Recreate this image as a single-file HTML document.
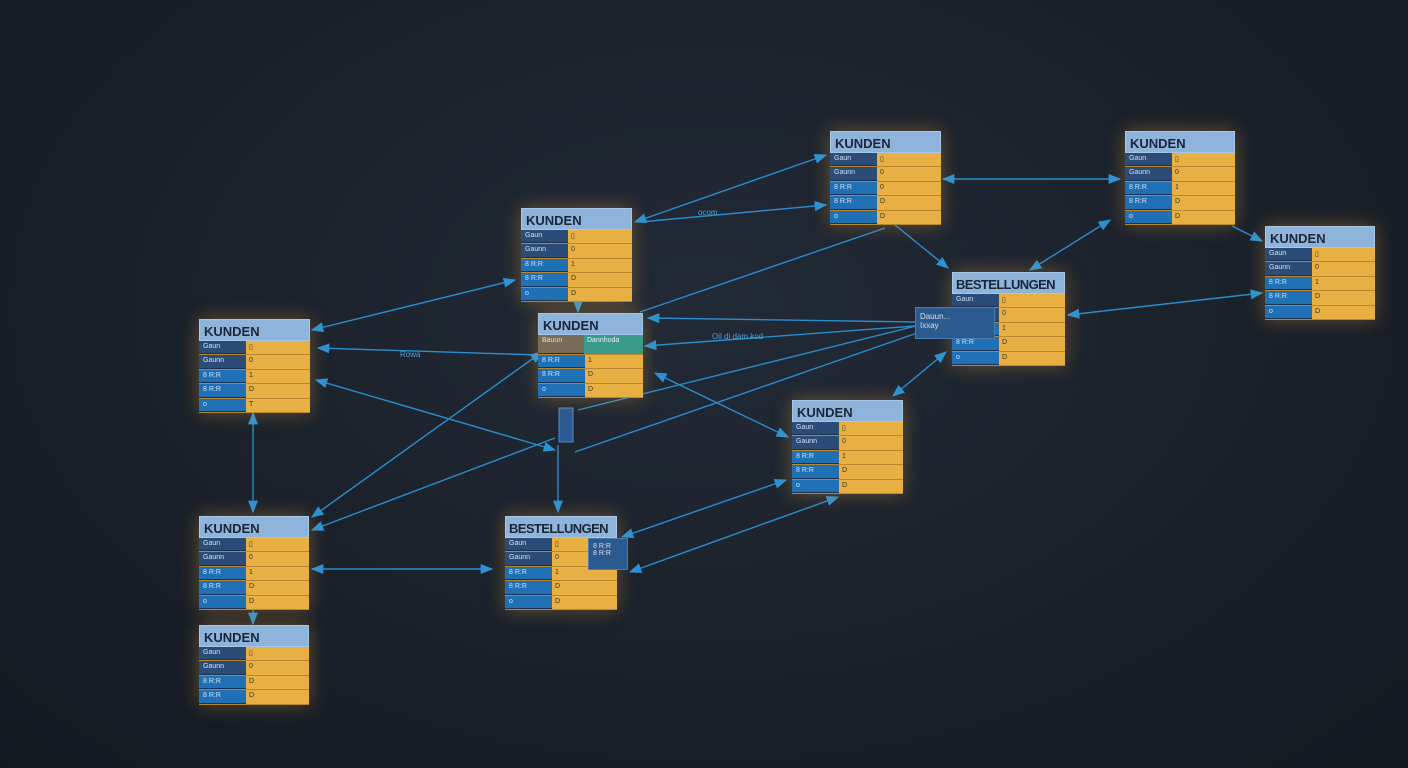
<!DOCTYPE html>
<html><head><meta charset="utf-8"><style>
*{margin:0;padding:0;box-sizing:border-box}
body{width:1408px;height:768px;overflow:hidden;background:radial-gradient(ellipse at 50% 40%,#222a36 0%,#1a2029 60%,#141920 100%);font-family:"Liberation Sans",sans-serif;position:relative}
.t{position:absolute;width:111px;box-shadow:0 0 18px rgba(240,170,60,.35)}
.h{height:22px;background:#8fb4dc;color:#1a2638;font-weight:bold;font-size:13px;padding:4px 0 0 4px;border:1px solid #a8c6e6;white-space:nowrap;overflow:hidden}
.h.s{letter-spacing:-0.6px;padding-left:3px}
.r{height:14.4px;display:flex;border-bottom:1px solid #b8862c}
.l{width:47px;background:#2c4c78;color:#cfe0f4;font-size:7px;padding:2px 4px;border-bottom:1px solid #1c3050}
.l.b{background:#1f70b4}
.y{flex:1;background:#e8b043;color:#333;font-size:7px;padding:2px 3px}
svg{position:absolute;left:0;top:0}
.x{position:absolute;font-size:8px;color:#4aa0e0}
</style></head><body>
<svg width="1408" height="768">
<defs><marker id="a" viewBox="0 0 10 10" refX="9" refY="5" markerWidth="9" markerHeight="9" orient="auto-start-reverse"><path d="M0,1L10,5L0,9z" fill="#2a92d4"/></marker></defs>
<g stroke="#2a8ccc" stroke-width="1.4" fill="none">
<line x1="635" y1="222" x2="826" y2="155" marker-start="url(#a)" marker-end="url(#a)"/>
<line x1="640" y1="222" x2="826" y2="205" marker-end="url(#a)"/>
<line x1="943" y1="179" x2="1120" y2="179" marker-start="url(#a)" marker-end="url(#a)"/>
<line x1="1232" y1="226" x2="1262" y2="241" marker-end="url(#a)"/>
<line x1="1030" y1="270" x2="1110" y2="220" marker-start="url(#a)" marker-end="url(#a)"/>
<line x1="895" y1="225" x2="948" y2="268" marker-end="url(#a)"/>
<line x1="1068" y1="315" x2="1262" y2="293" marker-start="url(#a)" marker-end="url(#a)"/>
<line x1="312" y1="330" x2="515" y2="280" marker-start="url(#a)" marker-end="url(#a)"/>
<line x1="318" y1="348" x2="540" y2="355" marker-start="url(#a)"/>
<line x1="316" y1="380" x2="555" y2="450" marker-start="url(#a)" marker-end="url(#a)"/>
<line x1="648" y1="318" x2="915" y2="322" marker-start="url(#a)"/>
<line x1="645" y1="346" x2="915" y2="326" marker-start="url(#a)"/>
<line x1="640" y1="312" x2="885" y2="228"/>
<line x1="655" y1="373" x2="788" y2="437" marker-start="url(#a)" marker-end="url(#a)"/>
<line x1="893" y1="396" x2="946" y2="352" marker-start="url(#a)" marker-end="url(#a)"/>
<line x1="578" y1="410" x2="920" y2="325"/>
<line x1="575" y1="452" x2="920" y2="332"/>
<line x1="312" y1="517" x2="542" y2="352" marker-start="url(#a)" marker-end="url(#a)"/>
<line x1="312" y1="530" x2="555" y2="438" marker-start="url(#a)"/>
<line x1="253" y1="413" x2="253" y2="512" marker-start="url(#a)" marker-end="url(#a)"/>
<line x1="312" y1="569" x2="492" y2="569" marker-start="url(#a)" marker-end="url(#a)"/>
<line x1="558" y1="445" x2="558" y2="512" marker-end="url(#a)"/>
<line x1="253" y1="610" x2="253" y2="624" marker-end="url(#a)"/>
<line x1="622" y1="537" x2="786" y2="480" marker-start="url(#a)" marker-end="url(#a)"/>
<line x1="630" y1="572" x2="838" y2="497" marker-start="url(#a)" marker-end="url(#a)"/>
<line x1="578" y1="298" x2="578" y2="312" marker-end="url(#a)"/>
</g>
<rect x="559" y="408" width="14" height="34" fill="#2c5a90" stroke="#5a8ac0"/>
</svg>
<div class="x" style="left:698px;top:208px">ocom</div>
<div class="x" style="left:400px;top:350px">Rowa</div>
<div class="x" style="left:712px;top:332px">Oil di dam kod</div>

<div class="t" style="left:830px;top:131px"><div class="h">KUNDEN</div><div class="r"><div class="l">Gaun</div><div class="y">▯</div></div><div class="r"><div class="l">Gaunn</div><div class="y">0</div></div><div class="r"><div class="l b">8 R:R</div><div class="y">0</div></div><div class="r"><div class="l b">8 R:R</div><div class="y">D</div></div><div class="r"><div class="l b">o</div><div class="y">D</div></div></div>
<div class="t" style="left:1125px;top:131px;width:110px"><div class="h">KUNDEN</div><div class="r"><div class="l">Gaun</div><div class="y">▯</div></div><div class="r"><div class="l">Gaunn</div><div class="y">0</div></div><div class="r"><div class="l b">8 R:R</div><div class="y">1</div></div><div class="r"><div class="l b">8 R:R</div><div class="y">D</div></div><div class="r"><div class="l b">o</div><div class="y">D</div></div></div>
<div class="t" style="left:521px;top:208px"><div class="h">KUNDEN</div><div class="r"><div class="l">Gaun</div><div class="y">▯</div></div><div class="r"><div class="l">Gaunn</div><div class="y">0</div></div><div class="r"><div class="l b">8 R:R</div><div class="y">1</div></div><div class="r"><div class="l b">8 R:R</div><div class="y">D</div></div><div class="r"><div class="l b">o</div><div class="y">D</div></div></div>
<div class="t" style="left:1265px;top:226px;width:110px"><div class="h">KUNDEN</div><div class="r"><div class="l">Gaun</div><div class="y">▯</div></div><div class="r"><div class="l">Gaunn</div><div class="y">0</div></div><div class="r"><div class="l b">8 R:R</div><div class="y">1</div></div><div class="r"><div class="l b">8 R:R</div><div class="y">D</div></div><div class="r"><div class="l b">o</div><div class="y">D</div></div></div>
<div class="t" style="left:199px;top:319px"><div class="h">KUNDEN</div><div class="r"><div class="l">Gaun</div><div class="y">▯</div></div><div class="r"><div class="l">Gaunn</div><div class="y">0</div></div><div class="r"><div class="l b">8 R:R</div><div class="y">1</div></div><div class="r"><div class="l b">8 R:R</div><div class="y">D</div></div><div class="r"><div class="l b">o</div><div class="y">T</div></div></div>
<div class="t" style="left:538px;top:313px;width:105px"><div class="h">KUNDEN</div><div class="r" style="height:20px"><div class="l" style="background:#7a6a58;width:46px">Bauun</div><div class="y" style="background:#3a9a8a;color:#eef">Dannhoda</div></div><div class="r"><div class="l b">8 R:R</div><div class="y">1</div></div><div class="r"><div class="l b">8 R:R</div><div class="y">D</div></div><div class="r"><div class="l b">o</div><div class="y">D</div></div></div>
<div class="t" style="left:952px;top:272px;width:113px"><div class="h s">BESTELLUNGEN</div><div class="r"><div class="l">Gaun</div><div class="y">▯</div></div><div class="r"><div class="l">Gaunn</div><div class="y">0</div></div><div class="r"><div class="l b">8 R:R</div><div class="y">1</div></div><div class="r"><div class="l b">8 R:R</div><div class="y">D</div></div><div class="r"><div class="l b">o</div><div class="y">D</div></div></div>
<div style="position:absolute;left:915px;top:307px;width:80px;height:32px;background:#2a5a8e;color:#dde;font-size:8px;padding:4px;border:1px solid #4a7ab0">Dauun...<br>Ixxay</div>
<div class="t" style="left:792px;top:400px"><div class="h">KUNDEN</div><div class="r"><div class="l">Gaun</div><div class="y">▯</div></div><div class="r"><div class="l">Gaunn</div><div class="y">0</div></div><div class="r"><div class="l b">8 R:R</div><div class="y">1</div></div><div class="r"><div class="l b">8 R:R</div><div class="y">D</div></div><div class="r"><div class="l b">o</div><div class="y">D</div></div></div>
<div class="t" style="left:199px;top:516px;width:110px"><div class="h">KUNDEN</div><div class="r"><div class="l">Gaun</div><div class="y">▯</div></div><div class="r"><div class="l">Gaunn</div><div class="y">0</div></div><div class="r"><div class="l b">8 R:R</div><div class="y">1</div></div><div class="r"><div class="l b">8 R:R</div><div class="y">D</div></div><div class="r"><div class="l b">o</div><div class="y">D</div></div></div>
<div class="t" style="left:505px;top:516px;width:112px"><div class="h s">BESTELLUNGEN</div><div class="r"><div class="l">Gaun</div><div class="y">▯</div></div><div class="r"><div class="l">Gaunn</div><div class="y">0</div></div><div class="r"><div class="l b">8 R:R</div><div class="y">1</div></div><div class="r"><div class="l b">8 R:R</div><div class="y">D</div></div><div class="r"><div class="l b">o</div><div class="y">D</div></div></div>
<div style="position:absolute;left:588px;top:538px;width:40px;height:32px;background:#2a5a8e;color:#dde;font-size:7px;padding:4px;border:1px solid #4a7ab0">8 R:R<br>8 R:R</div>
<div class="t" style="left:199px;top:625px;width:110px"><div class="h">KUNDEN</div><div class="r"><div class="l">Gaun</div><div class="y">▯</div></div><div class="r"><div class="l">Gaunn</div><div class="y">0</div></div><div class="r"><div class="l b">8 R:R</div><div class="y">D</div></div><div class="r"><div class="l b">8 R:R</div><div class="y">D</div></div></div>
</body></html>
